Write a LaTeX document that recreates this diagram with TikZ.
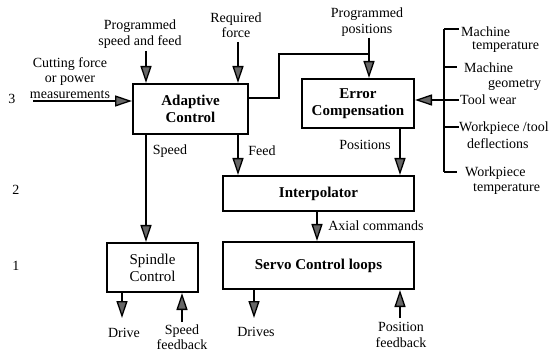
\documentclass[tikz,border=0pt]{standalone}
\usepackage{fontspec}
\setmainfont{Liberation Serif}
\usetikzlibrary{arrows.meta}
\begin{document}
\begin{tikzpicture}[x=1pt,y=-1pt,
  box/.style={draw,line width=2pt,inner sep=0pt,align=center,font=\fontsize{15}{17}\selectfont\bfseries},
  lbl/.style={align=center,inner sep=0pt,font=\fontsize{14}{15.5}\selectfont},
  lbll/.style={anchor=west,align=left,inner sep=0pt,font=\fontsize{14}{15.5}\selectfont},
  ln/.style={line width=2pt},
  arr/.style={line width=2pt,-{Triangle[length=17pt,width=11pt,fill=black!60,line width=1.3pt]}}]
\useasboundingbox (0,0) rectangle (553,352);
% boxes
\node[box,minimum width=115pt,minimum height=50pt] (ac) at (190.5,109) {Adaptive\\Control};
\node[box,minimum width=112pt,minimum height=49pt] (ec) at (358,103.5) {Error\\Compensation};
\node[box,minimum width=191pt,minimum height=35pt] (ip) at (318.5,193.5) {Interpolator};
\node[box,minimum width=191pt,minimum height=47pt] (sv) at (318.5,265.5) {Servo Control loops};
\node[box,minimum width=91pt,minimum height=49pt,font=\fontsize{15}{17}\selectfont] (sp) at (152.5,267.5) {Spindle\\Control};
% level numbers
\node[lbl] (n3) at (12,99) {3};
\node[lbl] (n2) at (16,190) {2};
\node[lbl] (n1) at (16,266) {1};
% input labels
\node[lbl] (tcf) at (70,78) {Cutting force\\or power\\measurements};
\node[lbl] (tps) at (140,34) {Programmed\\speed and feed};
\node[lbl] (trf) at (236,25) {Required\\force};
\node[lbl] (tpp) at (367,22) {Programmed\\positions};
% arrows into adaptive control
\coordinate (cf) at (33,101);
\draw[arr] (cf) -- (cf -| ac.west);
\coordinate (ps) at (146,51);
\draw[arr] (ps) -- (ps |- ac.north);
\coordinate (rf) at (238,42);
\draw[arr] (rf) -- (rf |- ac.north);
% adaptive -> error compensation
\coordinate (j1) at (279,54);
\coordinate (pp) at (369,38);
\draw[ln] (ac.east |- 0,98) -| (j1) -- (j1 -| pp);
\draw[arr] (pp) -- (pp |- ec.north);
% speed / feed
\coordinate (spd) at (146,134);
\draw[arr] (spd) -- (spd |- sp.north);
\node[lbl] (tspd) at (170,151) {Speed};
\coordinate (fd) at (238,134);
\draw[arr] (fd) -- (fd |- ip.north);
\node[lbl] (tfd) at (262,151) {Feed};
% positions
\coordinate (pos) at (400,128);
\draw[arr] (pos) -- (pos |- ip.north);
\node[lbl] (tpos) at (365,145) {Positions};
% axial
\coordinate (ax) at (317,211);
\draw[arr] (ax) -- (ax |- sv.north);
\node[lbl] (tax) at (376,226) {Axial commands};
% bracket
\coordinate (b1) at (444,29);
\coordinate (b5) at (444,172);
\draw[line width=1.4pt] (b1) -- (b5);
\draw[line width=1.4pt] (b1) -- ++(15,0);
\draw[line width=1.4pt] (444,67) -- ++(13,0);
\draw[line width=1.4pt] (444,127) -- ++(15,0);
\draw[line width=1.4pt] (b5) -- ++(13,0);
\coordinate (tw) at (459,100);
\draw[arr] (tw) -- (tw -| ec.east);
\node[lbll] (m1) at (461,32) {Machine};
\node[lbll] (m2) at (472,47) {temperature};
\node[lbll] (g1) at (464,68) {Machine};
\node[lbll] (g2) at (488,85) {geometry};
\node[lbll] (tw1) at (460,100) {Tool wear};
\node[lbll] (wd1) at (459,128) {Workpiece /tool};
\node[lbll] (wd2) at (467,144) {deflections};
\node[lbll] (wt1) at (465,173) {Workpiece};
\node[lbll] (wt2) at (473,189) {temperature};
% outputs
\coordinate (dr) at (122,318);
\draw[arr] (sp.south -| dr) -- (dr);
\node[lbl] (tdr) at (124,333) {Drive};
\coordinate (sf) at (182,322);
\draw[arr] (sf) -- (sf |- sp.south);
\node[lbl] (tsf) at (182,337) {Speed\\feedback};
\coordinate (drs) at (254,318);
\draw[arr] (sv.south -| drs) -- (drs);
\node[lbl] (tdrs) at (256,332) {Drives};
\coordinate (pf) at (400,318);
\draw[arr] (pf) -- (pf |- sv.south);
\node[lbl] (tpf) at (401,335) {Position\\feedback};
\end{tikzpicture}
\end{document}
